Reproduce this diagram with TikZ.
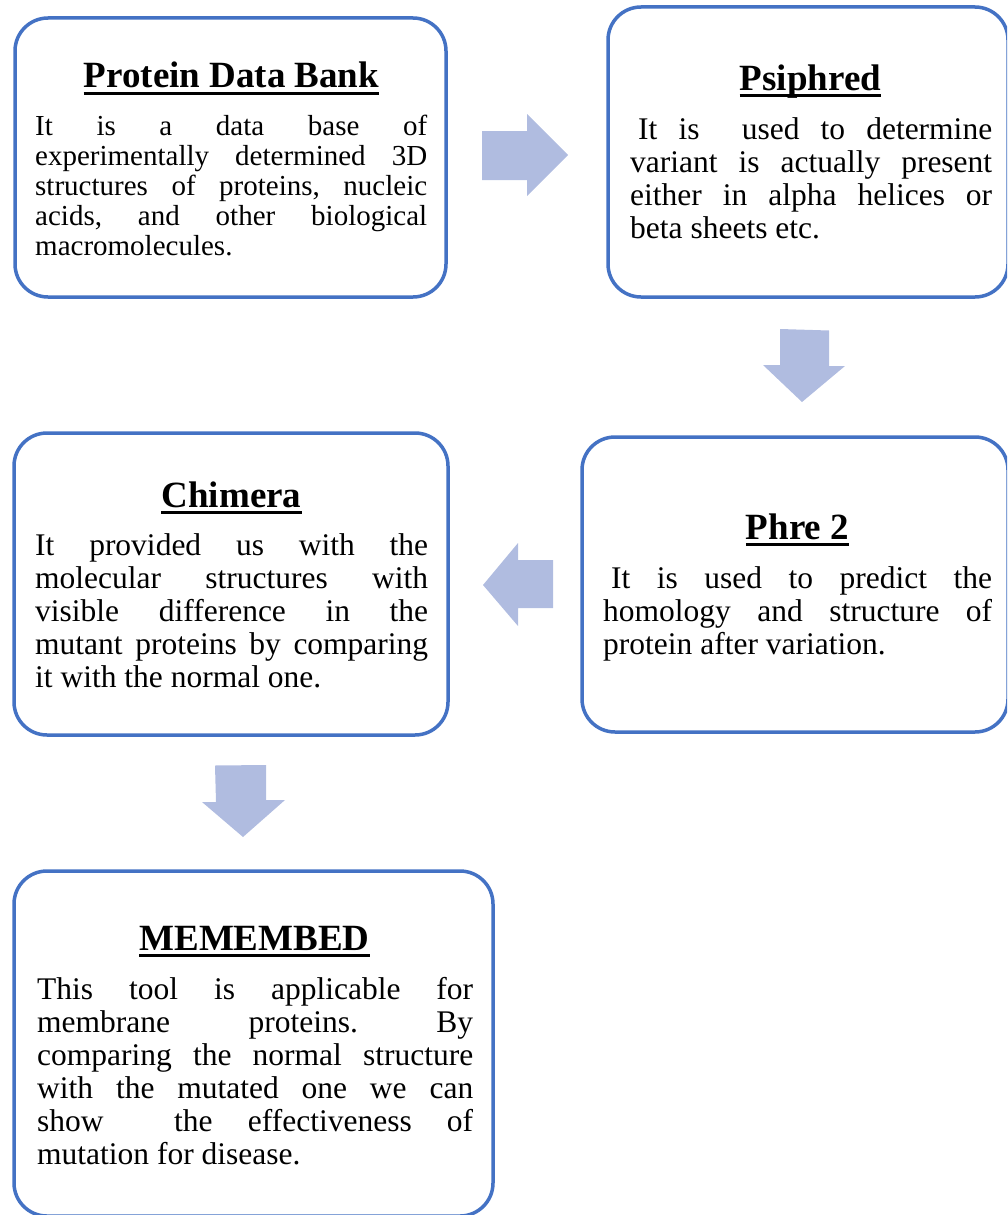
\documentclass[tikz,border=0pt]{standalone}
\usepackage{fontspec}
\setmainfont{Liberation Serif}
\definecolor{boxblue}{HTML}{4472C4}
\definecolor{arrowfill}{HTML}{B0BCE0}
\frenchspacing
\newcommand\jline[1]{\makebox[\linewidth][s]{#1}}
\begin{document}
\begin{tikzpicture}[x=1pt,y=-1pt,
  stepbox/.style={draw=boxblue, line width=3.5pt, rounded corners=33pt, inner sep=0pt, fill=white},
  titletext/.style={font=\fontsize{37}{40}\selectfont\bfseries, inner sep=0pt, anchor=base},
  bodytext/.style={inner sep=0pt, anchor=base west},
  uline/.style={line width=3pt},
  blockarrow/.style={fill=arrowfill, draw=none}]
\useasboundingbox (0,0) rectangle (1007,1215);
\clip (0,0) rectangle (1007,1215);

% boxes
\node[stepbox, minimum width=431pt, minimum height=279pt] (b1) at (230.5,157.5) {};
\node[stepbox, minimum width=400pt, minimum height=290pt] (b2) at (808,152) {};
\node[stepbox, minimum width=426pt, minimum height=295pt] (b3) at (795,584.5) {};
\node[stepbox, minimum width=434pt, minimum height=302pt] (b4) at (231,584) {};
\node[stepbox, minimum width=479pt, minimum height=345pt] (b5) at (253.5,1043.5) {};

% titles
\node[titletext] (t1) at (231.5,88) {Protein Data Bank};
\node[titletext] (t2) at (810.5,90) {Psiphred};
\node[titletext] (t3) at (797.5,539) {Phre 2};
\node[titletext] (t4) at (231.5,507) {Chimera};
\node[titletext] (t5) at (254.5,950) {MEMEMBED};
\foreach \t in {t1,t2,t3,t4,t5}
  \draw[uline] ([yshift=-5pt]\t.base west) -- ([yshift=-5pt]\t.base east);

% bodies
\node[bodytext] (p1) at (35,135) {\parbox[t]{392pt}{\fontsize{29}{30}\selectfont
  \jline{It is a data base of}\\
  \jline{experimentally determined 3D}\\
  \jline{structures of proteins, nucleic}\\
  \jline{acids, and other biological}\\
  macromolecules.}};
\node[bodytext] (p2) at (630,139) {\parbox[t]{362pt}{\fontsize{31.5}{33.3}\selectfont
  \jline{\hspace*{8pt}It is\ \ used to determine}\\
  \jline{variant is actually present}\\
  \jline{either in alpha helices or}\\
  beta sheets etc.}};
\node[bodytext] (p3) at (603,588) {\parbox[t]{389pt}{\fontsize{31.5}{33}\selectfont
  \jline{\hspace*{8pt}It is used to predict the}\\
  \jline{homology and structure of}\\
  protein after variation.}};
\node[bodytext] (p4) at (35,555) {\parbox[t]{393pt}{\fontsize{31.5}{33}\selectfont
  \jline{It provided us with the}\\
  \jline{molecular structures with}\\
  \jline{visible difference in the}\\
  \jline{mutant proteins by comparing}\\
  it with the normal one.}};
\node[bodytext] (p5) at (37,999) {\parbox[t]{436pt}{\fontsize{31.5}{33}\selectfont
  \jline{This tool is applicable for}\\
  \jline{membrane proteins. By}\\
  \jline{comparing the normal structure}\\
  \jline{with the mutated one we can}\\
  \jline{show\ \ the effectiveness of}\\
  mutation for disease.}};

% block arrows
\fill[blockarrow] (482,131) -- (527,131) -- (527,114) -- (568,155) -- (527,196) -- (527,180) -- (482,180) -- cycle;
\fill[blockarrow] (780,329) -- (829,330.5) -- (829,366) -- (845,366) -- (802,402) -- (763,365) -- (780,365) -- cycle;
\fill[blockarrow] (553,560) -- (553,608) -- (518,608) -- (518,626) -- (483,585) -- (518,543) -- (518,560) -- cycle;
\fill[blockarrow] (215,765.5) -- (266,765) -- (266,800) -- (285,800) -- (243,837) -- (202,802) -- (216,802) -- cycle;
\end{tikzpicture}
\end{document}
